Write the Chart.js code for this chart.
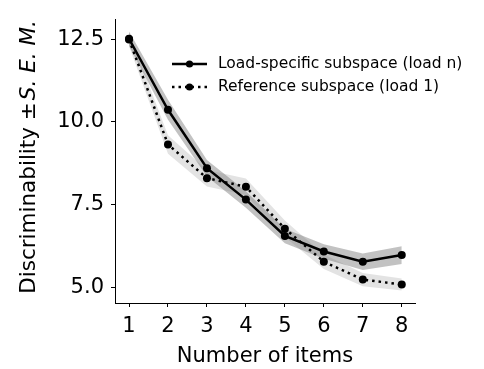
<!DOCTYPE html>
<html>
<head>
<meta charset="utf-8">
<script src="https://cdn.jsdelivr.net/npm/chart.js@4/dist/chart.umd.min.js"></script>
<style>
  html, body { margin: 0; padding: 0; background: #fff; }
</style>
</head>
<body>
<canvas id="chart" width="484" height="369"></canvas>
<script>
// number of items held in memory
const items = [1, 2, 3, 4, 5, 6, 7, 8];
// discriminability, load-specific subspace (load n)
const loadSpecific = [12.52, 10.37, 8.6, 7.65, 6.55, 6.08, 5.77, 5.97];
const loadSpecificSem = [0.22, 0.3, 0.25, 0.25, 0.22, 0.22, 0.25, 0.27];
// discriminability, reference subspace (load 1)
const reference = [12.5, 9.32, 8.3, 8.04, 6.77, 5.77, 5.23, 5.08];
const referenceSem = [0.2, 0.28, 0.25, 0.25, 0.25, 0.22, 0.2, 0.18];
const yTicks = [5.0, 7.5, 10.0, 12.5];

const FONT = 'DejaVu Sans';

const pts = (vals, off) => items.map((x, i) => ({ x: x, y: vals[i] + off(i) }));

function band(vals, sem, color) {
  return [
    { data: pts(vals, i => sem[i]), fill: '+1', backgroundColor: color,
      borderWidth: 0, pointRadius: 0, order: 5 },
    { data: pts(vals, i => -sem[i]), fill: false, borderWidth: 0, pointRadius: 0, order: 5 }
  ];
}

// y-axis title with the italic S.E.M. part
const yTitle = {
  id: 'yTitle',
  afterDraw(chart) {
    const ctx = chart.ctx;
    const plain = 'Discriminability \u00b1';
    const ital = 'S. E. M.';
    const size = 21.5;
    ctx.save();
    ctx.translate(29, 157);
    ctx.rotate(-Math.PI / 2);
    ctx.fillStyle = '#000';
    ctx.textBaseline = 'middle';
    ctx.font = `${size}px "${FONT}"`;
    const w1 = ctx.measureText(plain).width + 2;
    ctx.font = `italic ${size}px "${FONT}"`;
    const w2 = ctx.measureText(ital).width;
    let x = -(w1 + w2) / 2;
    ctx.font = `${size}px "${FONT}"`;
    ctx.fillText(plain, x, 0);
    ctx.font = `italic ${size}px "${FONT}"`;
    ctx.fillText(ital, x + w1, 0);
    ctx.restore();
  }
};

// legend: line sample with a marker, then the label
const lineLegend = {
  id: 'lineLegend',
  afterDraw(chart) {
    const ctx = chart.ctx;
    const rows = [
      { y: 64, dash: [], text: 'Load-specific subspace (load n)' },
      { y: 87, dash: [2.5, 4], text: 'Reference subspace (load 1)' }
    ];
    ctx.save();
    rows.forEach(r => {
      ctx.strokeStyle = '#000';
      ctx.lineWidth = 2.5;
      ctx.lineCap = 'butt';
      ctx.setLineDash(r.dash);
      ctx.beginPath();
      ctx.moveTo(172, r.y);
      ctx.lineTo(207, r.y);
      ctx.stroke();
      ctx.setLineDash([]);
      ctx.beginPath();
      ctx.arc(189.5, r.y, 3.6, 0, Math.PI * 2);
      ctx.fillStyle = '#000';
      ctx.fill();
      ctx.font = `15.5px "${FONT}"`;
      ctx.textBaseline = 'middle';
      ctx.fillText(r.text, 218, r.y);
    });
    ctx.restore();
  }
};

const axisGrid = { display: true, drawOnChartArea: false, drawTicks: true, tickLength: 4, color: '#000', lineWidth: 1 };
const axisBorder = { display: true, color: '#000', width: 1 };
const tickFont = { family: FONT, size: 21 };

new Chart(document.getElementById('chart'), {
  type: 'line',
  data: {
    datasets: [
      ...band(loadSpecific, loadSpecificSem, 'rgba(120,120,120,0.45)'),
      ...band(reference, referenceSem, 'rgba(128,128,128,0.22)'),
      { data: pts(loadSpecific, () => 0), borderColor: '#000', borderWidth: 2.5,
        pointRadius: 4, pointBackgroundColor: '#000', pointBorderWidth: 0, fill: false, order: 1 },
      { data: pts(reference, () => 0), borderColor: '#000', borderWidth: 2.5, borderDash: [2.5, 4],
        borderCapStyle: 'butt', pointRadius: 4, pointBackgroundColor: '#000', pointBorderWidth: 0,
        fill: false, order: 2 }
    ]
  },
  options: {
    responsive: false,
    devicePixelRatio: 1,
    animation: false,
    layout: { padding: { top: 14, right: 69, left: 0, bottom: 0 } },
    elements: { line: { tension: 0 } },
    plugins: { legend: { display: false }, tooltip: { enabled: false } },
    scales: {
      x: {
        type: 'linear', min: 0.64, max: 8.34,
        afterBuildTicks: s => { s.ticks = items.map(v => ({ value: v })); },
        afterFit: s => { s.height = 66; },
        grid: axisGrid, border: axisBorder,
        ticks: { color: '#000', font: tickFont, padding: 7, maxRotation: 0 },
        title: { display: true, text: 'Number of items', color: '#000',
                 font: { family: FONT, size: 21 }, padding: { top: 0, bottom: 0 } }
      },
      y: {
        min: 4.52, max: 13.1,
        afterBuildTicks: s => { s.ticks = yTicks.map(v => ({ value: v })); },
        afterFit: s => { s.width = 115; },
        grid: axisGrid, border: axisBorder,
        ticks: { color: '#000', font: tickFont, padding: 7, callback: v => v.toFixed(1) }
      }
    }
  },
  plugins: [yTitle, lineLegend]
});
</script>
</body>
</html>
